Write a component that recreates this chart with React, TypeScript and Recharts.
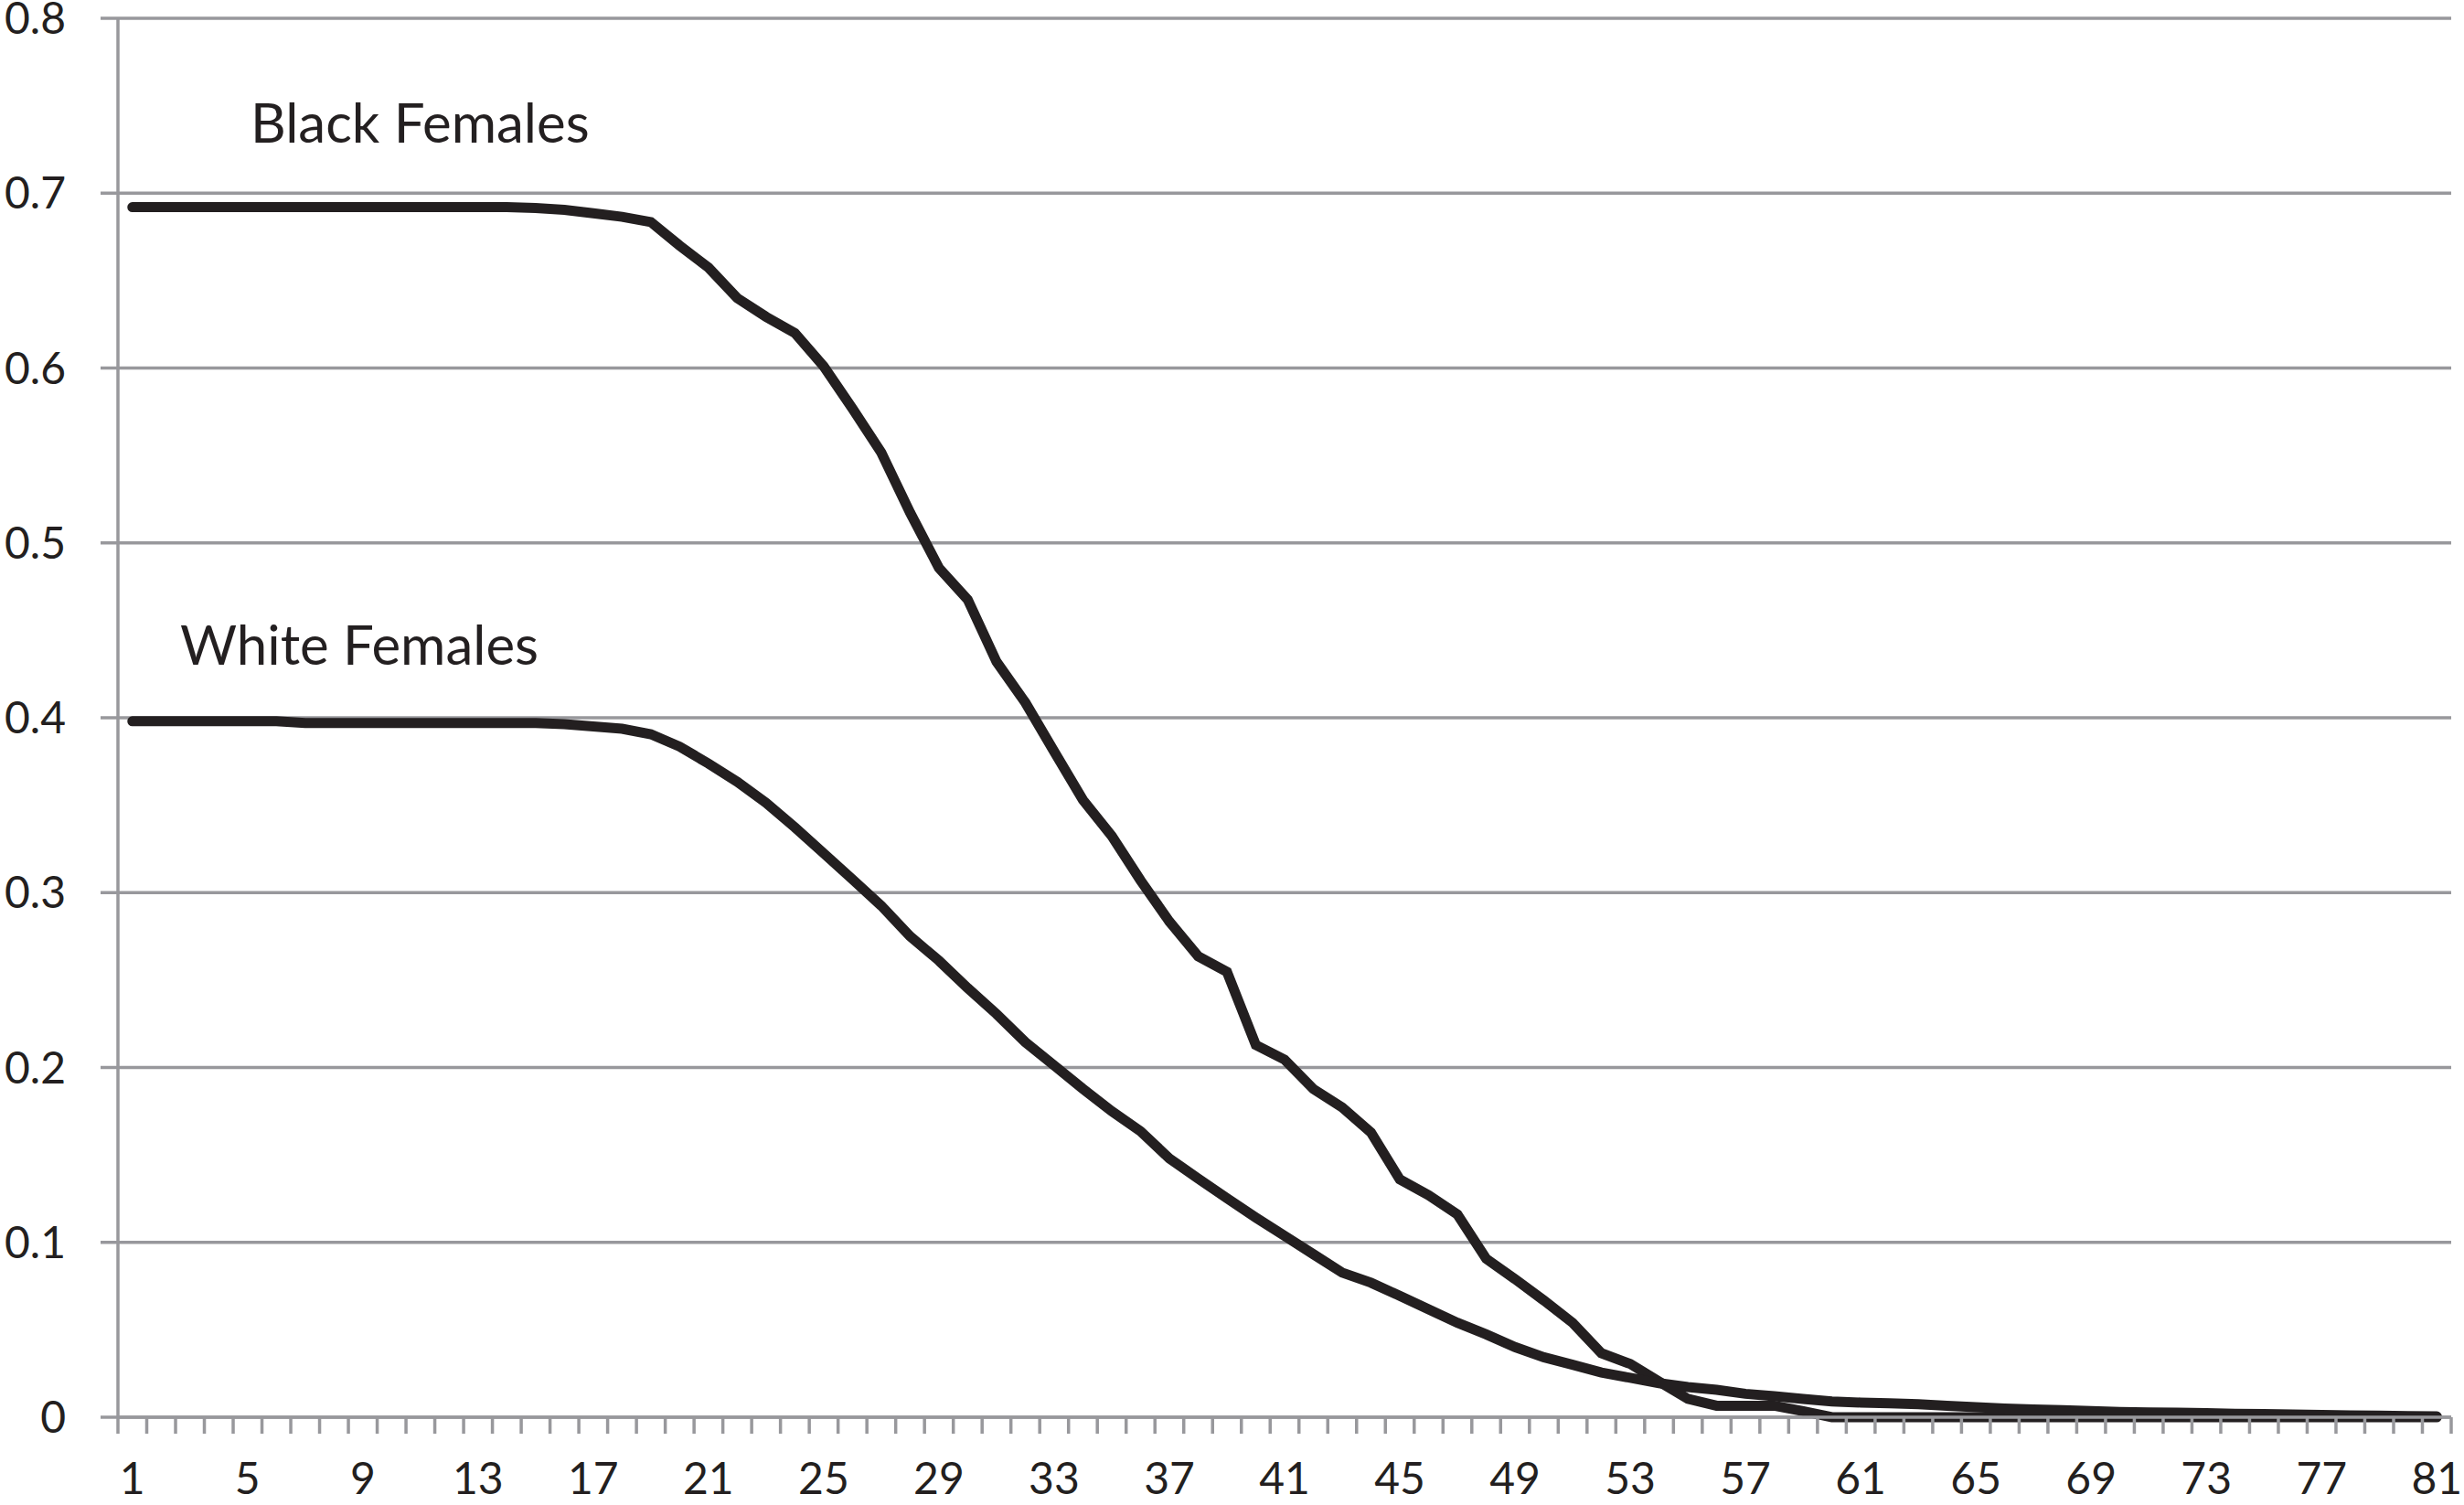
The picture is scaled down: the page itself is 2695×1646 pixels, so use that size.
import React from 'react'
import { CartesianGrid, Line, LineChart, XAxis, YAxis } from 'recharts'

// one category per year of age on the horizontal axis
const categories = [
  1, 2, 3, 4, 5, 6, 7, 8, 9, 10, 11, 12, 13, 14, 15, 16, 17, 18, 19, 20,
  21, 22, 23, 24, 25, 26, 27, 28, 29, 30, 31, 32, 33, 34, 35, 36, 37, 38, 39, 40,
  41, 42, 43, 44, 45, 46, 47, 48, 49, 50, 51, 52, 53, 54, 55, 56, 57, 58, 59, 60,
  61, 62, 63, 64, 65, 66, 67, 68, 69, 70, 71, 72, 73, 74, 75, 76, 77, 78, 79, 80,
  81,
]

const blackFemales = [
  0.692, 0.692, 0.692, 0.692, 0.692, 0.692, 0.692, 0.692, 0.692, 0.692,
  0.692, 0.692, 0.692, 0.692, 0.6915, 0.6905, 0.6885, 0.6865, 0.6835, 0.67,
  0.6574, 0.64, 0.6293, 0.62, 0.601, 0.5768, 0.5516, 0.5173, 0.4857, 0.4676,
  0.432, 0.4087, 0.3807, 0.353, 0.3324, 0.307, 0.2835, 0.2636, 0.2547, 0.2129,
  0.2045, 0.1877, 0.1772, 0.1628, 0.136, 0.127, 0.116, 0.0906, 0.079, 0.0668,
  0.054, 0.0366, 0.0305, 0.0204, 0.0105, 0.0066, 0.0066, 0.0066, 0.0035, 0,
  0, 0, 0, 0, 0, 0, 0, 0, 0, 0,
  0, 0, 0, 0, 0, 0, 0, 0, 0, 0,
  0,
]

const whiteFemales = [
  0.398, 0.398, 0.398, 0.398, 0.398, 0.398, 0.397, 0.397, 0.397, 0.397,
  0.397, 0.397, 0.397, 0.397, 0.397, 0.3963, 0.395, 0.3937, 0.3906, 0.3835,
  0.3738, 0.3634, 0.3514, 0.3373, 0.3225, 0.3076, 0.2925, 0.275, 0.2611, 0.2454,
  0.2306, 0.2145, 0.2012, 0.1878, 0.175, 0.1635, 0.148, 0.1365, 0.1252, 0.1142,
  0.1037, 0.0932, 0.0827, 0.0769, 0.0694, 0.0617, 0.054, 0.0474, 0.0401, 0.0343,
  0.03, 0.0256, 0.0225, 0.0195, 0.0173, 0.0157, 0.0134, 0.012, 0.0105, 0.009,
  0.0084, 0.008, 0.0075, 0.0065, 0.0057, 0.005, 0.0045, 0.004, 0.0035, 0.003,
  0.0028, 0.0026, 0.0023, 0.002, 0.0018, 0.0016, 0.0013, 0.0011, 0.0009, 0.0007,
  0.0005,
]

const xTickLabels = [1, 5, 9, 13, 17, 21, 25, 29, 33, 37, 41, 45, 49, 53, 57, 61, 65, 69, 73, 77, 81]
const yTicks = [0, 0.1, 0.2, 0.3, 0.4, 0.5, 0.6, 0.7, 0.8]

const data = categories.map((x, i) => ({
  x,
  black: blackFemales[i],
  white: whiteFemales[i],
}))

// tick marks sit between categories, like a "between tick marks" category axis
const boundaries = [...categories.map((c) => c - 0.5), categories[categories.length - 1] + 0.5]
const domain: [number, number] = [boundaries[0], boundaries[boundaries.length - 1]]

const INK = '#231f20'
const GRAY = '#98989c'
const FONT = 'Lato, "Open Sans", sans-serif'

const tickStyle = { fontFamily: FONT, fontSize: 48, fill: INK }

// draws no label, but keeps the tick line (tick={false} drops both)
const NoLabel = () => <g />

export default function App() {
  return (
    <div style={{ position: 'absolute', left: 0, top: 0, width: 2695, height: 1646, background: '#fff' }}>
      <LineChart
        width={2695}
        height={1646}
        data={data}
        margin={{ top: 20, right: 14, bottom: 0, left: 0 }}
        style={{ fontFamily: FONT }}
      >
        <CartesianGrid vertical={false} stroke={GRAY} strokeWidth={3.5} xAxisId="a" />
        {/* minor axis: the line and the little ticks between categories */}
        <XAxis
          xAxisId="a"
          dataKey="x"
          type="number"
          domain={domain}
          ticks={boundaries}
          interval={0}
          tick={NoLabel}
          tickSize={18}
          tickLine={{ stroke: GRAY, strokeWidth: 3.5 }}
          axisLine={{ stroke: GRAY, strokeWidth: 3.5 }}
          height={20}
        />
        {/* label axis stacked under it */}
        <XAxis
          xAxisId="b"
          dataKey="x"
          type="number"
          domain={domain}
          ticks={xTickLabels}
          interval={0}
          tick={tickStyle}
          tickLine={false}
          axisLine={false}
          tickSize={0}
          tickMargin={30}
          height={76}
        />
        <YAxis
          domain={[0, 0.8]}
          ticks={yTicks}
          interval={0}
          width={129}
          tick={tickStyle}
          tickSize={19}
          tickMargin={38}
          tickLine={{ stroke: GRAY, strokeWidth: 3.5 }}
          axisLine={{ stroke: GRAY, strokeWidth: 3.5 }}
        />
        <Line
          xAxisId="a"
          type="linear"
          dataKey="black"
          stroke={INK}
          strokeWidth={11}
          strokeLinecap="round"
          dot={false}
          activeDot={false}
          isAnimationActive={false}
        />
        <Line
          xAxisId="a"
          type="linear"
          dataKey="white"
          stroke={INK}
          strokeWidth={11}
          strokeLinecap="round"
          dot={false}
          activeDot={false}
          isAnimationActive={false}
        />
        <text x={274} y={156} fontFamily={FONT} fontSize={60} fill={INK}>
          Black Females
        </text>
        <text x={197} y={727} fontFamily={FONT} fontSize={60} fill={INK}>
          White Females
        </text>
      </LineChart>
    </div>
  )
}
